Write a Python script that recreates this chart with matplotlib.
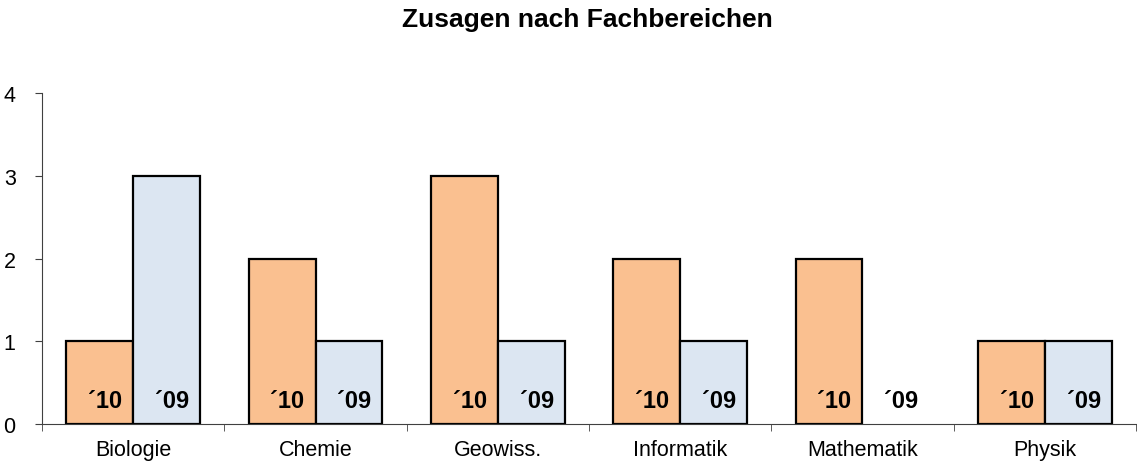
import matplotlib.pyplot as plt
import numpy as np

plt.rcParams['font.family'] = ['Liberation Sans', 'DejaVu Sans']

fachbereiche = ['Biologie', 'Chemie', 'Geowiss.', 'Informatik', 'Mathematik', 'Physik']
zusagen_2010 = [1, 2, 3, 2, 2, 1]
zusagen_2009 = [3, 1, 1, 1, 0, 1]
label_2010 = '´10'
label_2009 = '´09'

fig = plt.figure(figsize=(11.37, 4.64), dpi=100)
ax = fig.add_axes([42 / 1137, 39 / 464, 1094 / 1137, 331 / 464])

x = np.arange(len(fachbereiche))
w = 0.367
# Balken mit Wert 0 ohne Rahmen
kanten_2010 = ['black' if v > 0 else 'none' for v in zusagen_2010]
kanten_2009 = ['black' if v > 0 else 'none' for v in zusagen_2009]
ax.bar(x - w / 2, zusagen_2010, w, color='#FAC090', edgecolor=kanten_2010, linewidth=1.6)
ax.bar(x + w / 2, zusagen_2009, w, color='#DCE6F2', edgecolor=kanten_2009, linewidth=1.6)

for i in range(len(fachbereiche)):
    ax.text(x[i] - w / 2 + 0.03, 0.28, label_2010, ha='center', va='center',
            fontsize=17, fontweight='bold')
    ax.text(x[i] + w / 2 + 0.03, 0.28, label_2009, ha='center', va='center',
            fontsize=17, fontweight='bold')

ax.set_xlim(-0.5, len(fachbereiche) - 0.5)
ax.set_ylim(0, 4)
ax.set_yticks([0, 1, 2, 3, 4])
ax.set_xticks(x)
ax.set_xticklabels(fachbereiche)
ax.set_xticks(np.arange(len(fachbereiche) + 1) - 0.5, minor=True)
ax.tick_params(axis='x', which='major', length=0, labelsize=15.5, pad=11)
ax.tick_params(axis='x', which='minor', length=5, direction='out', color='#404040')
ax.tick_params(axis='y', length=5, direction='out', labelsize=15.5, pad=14, color='#404040')

ax.spines['top'].set_visible(False)
ax.spines['right'].set_visible(False)
ax.spines['left'].set_color('#404040')
ax.spines['bottom'].set_color('#404040')

fig.suptitle('Zusagen nach Fachbereichen', x=0.517, y=0.982, fontsize=19, fontweight='bold')

fig.savefig('out.png', dpi=100)
